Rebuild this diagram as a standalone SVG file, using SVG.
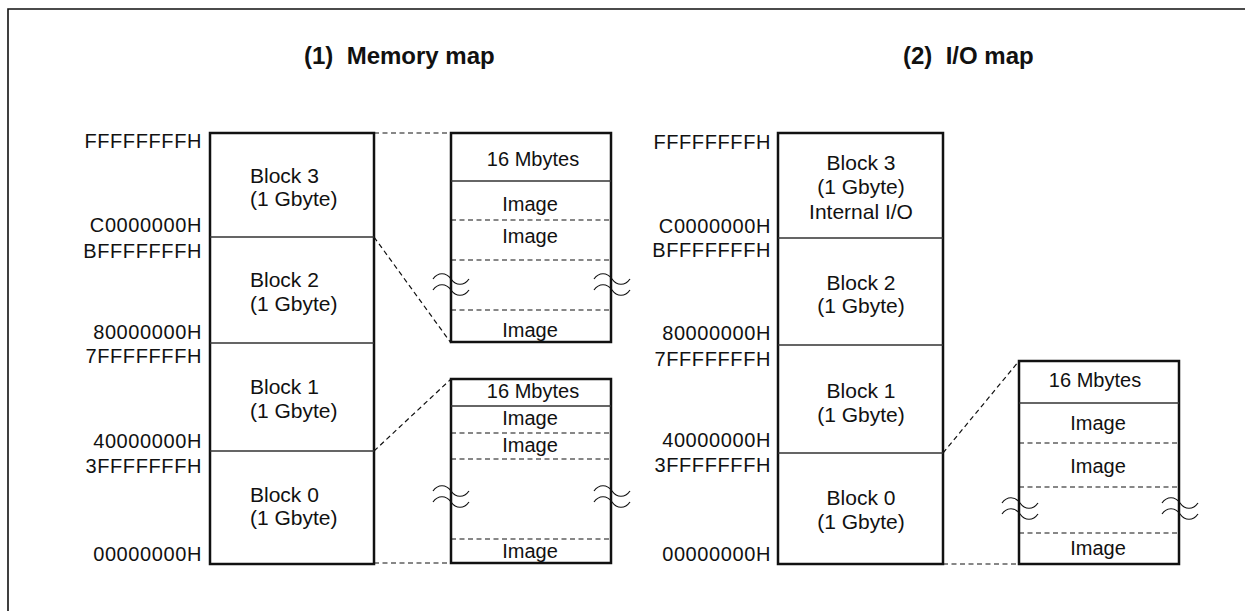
<svg xmlns="http://www.w3.org/2000/svg" width="1245" height="611" viewBox="0 0 1245 611">
<style>
  text { font-family: "Liberation Sans", Arial, sans-serif; fill: #111; }
  .title { font-size: 24px; font-weight: bold; }
  .addr { font-size: 20px; letter-spacing: 0.6px; text-anchor: end; }
  .blk { font-size: 21px; }
  .blkc { font-size: 21px; text-anchor: middle; }
  .img { font-size: 20px; text-anchor: middle; }
  .box { fill: #fff; stroke: #111; stroke-width: 2.5; }
  .div { stroke: #333; stroke-width: 1.3; fill: none; }
  .dash { stroke: #111; stroke-width: 1.2; stroke-dasharray: 5 3.5; fill: none; }
  .wave { stroke: #111; stroke-width: 1.2; fill: none; }
  .frame { stroke: #111; stroke-width: 1.6; fill: none; }
</style>
<defs>
  <path id="wv" class="wave" d="M-18,0 c5,-7 13,-7 18,0 c5,7 13,7 18,0 M-18,11 c5,-7 13,-7 18,0 c5,7 13,7 18,0"/>
</defs>
<rect width="1245" height="611" fill="#fff"/>
<path class="frame" d="M8,620 V9 H1250"/>

<text class="title" x="304" y="64">(1)&#160; Memory map</text>
<text class="title" x="903" y="64">(2)&#160; I/O map</text>

<g id="connectors">
  <path class="dash" d="M374,133 H451"/>
  <path class="dash" d="M374,237 L451,343"/>
  <path class="dash" d="M374,451 L451,379"/>
  <path class="dash" d="M374,563 H451"/>
  <path class="dash" d="M943,453 L1019,361"/>
  <path class="dash" d="M943,564 H1019"/>
</g>

<g id="mem-map">
  <rect class="box" x="210" y="133" width="164" height="431"/>
  <path class="div" d="M210,237 H374 M210,343 H374 M210,451 H374"/>
  <text class="blk" x="250" y="183">Block 3</text>
  <text class="blk" x="250" y="206">(1 Gbyte)</text>
  <text class="blk" x="250" y="287">Block 2</text>
  <text class="blk" x="250" y="311">(1 Gbyte)</text>
  <text class="blk" x="250" y="394">Block 1</text>
  <text class="blk" x="250" y="418">(1 Gbyte)</text>
  <text class="blk" x="250" y="502">Block 0</text>
  <text class="blk" x="250" y="525">(1 Gbyte)</text>
</g>
<g id="mem-addr">
  <text class="addr" x="202" y="148">FFFFFFFFH</text>
  <text class="addr" x="202" y="232">C0000000H</text>
  <text class="addr" x="202" y="258">BFFFFFFFH</text>
  <text class="addr" x="202" y="339">80000000H</text>
  <text class="addr" x="202" y="363">7FFFFFFFH</text>
  <text class="addr" x="202" y="448">40000000H</text>
  <text class="addr" x="202" y="473">3FFFFFFFH</text>
  <text class="addr" x="202" y="561">00000000H</text>
</g>

<g id="mem-block3-detail">
  <rect class="box" x="451" y="133" width="160" height="209"/>
  <path class="div" d="M451,181 H611"/>
  <path class="dash" d="M451,220 H611 M451,260 H611 M451,310 H611"/>
  <text class="img" x="533" y="166">16 Mbytes</text>
  <text class="img" x="530" y="211">Image</text>
  <text class="img" x="530" y="243">Image</text>
  <text class="img" x="530" y="337">Image</text>
  <use href="#wv" x="451" y="279"/>
  <use href="#wv" x="612" y="279"/>
</g>

<g id="mem-block0-detail">
  <rect class="box" x="451" y="379" width="160" height="184"/>
  <path class="div" d="M451,406 H611"/>
  <path class="dash" d="M451,433 H611 M451,459 H611 M451,539 H611"/>
  <text class="img" x="533" y="398">16 Mbytes</text>
  <text class="img" x="530" y="425">Image</text>
  <text class="img" x="530" y="452">Image</text>
  <text class="img" x="530" y="558">Image</text>
  <use href="#wv" x="451" y="491"/>
  <use href="#wv" x="612" y="491"/>
</g>

<g id="io-map">
  <rect class="box" x="778" y="133" width="165" height="431"/>
  <path class="div" d="M778,238 H943 M778,345 H943 M778,453 H943"/>
  <text class="blkc" x="861" y="170">Block 3</text>
  <text class="blkc" x="861" y="194">(1 Gbyte)</text>
  <text class="blkc" x="861" y="219">Internal I/O</text>
  <text class="blkc" x="861" y="290">Block 2</text>
  <text class="blkc" x="861" y="313">(1 Gbyte)</text>
  <text class="blkc" x="861" y="398">Block 1</text>
  <text class="blkc" x="861" y="422">(1 Gbyte)</text>
  <text class="blkc" x="861" y="505">Block 0</text>
  <text class="blkc" x="861" y="529">(1 Gbyte)</text>
</g>
<g id="io-addr">
  <text class="addr" x="771" y="149">FFFFFFFFH</text>
  <text class="addr" x="771" y="233">C0000000H</text>
  <text class="addr" x="771" y="257">BFFFFFFFH</text>
  <text class="addr" x="771" y="340">80000000H</text>
  <text class="addr" x="771" y="366">7FFFFFFFH</text>
  <text class="addr" x="771" y="447">40000000H</text>
  <text class="addr" x="771" y="472">3FFFFFFFH</text>
  <text class="addr" x="771" y="561">00000000H</text>
</g>

<g id="io-block0-detail">
  <rect class="box" x="1019" y="361" width="160" height="203"/>
  <path class="div" d="M1019,403 H1179"/>
  <path class="dash" d="M1019,443 H1179 M1019,487 H1179 M1019,533 H1179"/>
  <text class="img" x="1095" y="387">16 Mbytes</text>
  <text class="img" x="1098" y="430">Image</text>
  <text class="img" x="1098" y="473">Image</text>
  <text class="img" x="1098" y="555">Image</text>
  <use href="#wv" x="1020" y="503"/>
  <use href="#wv" x="1180" y="503"/>
</g>
</svg>
